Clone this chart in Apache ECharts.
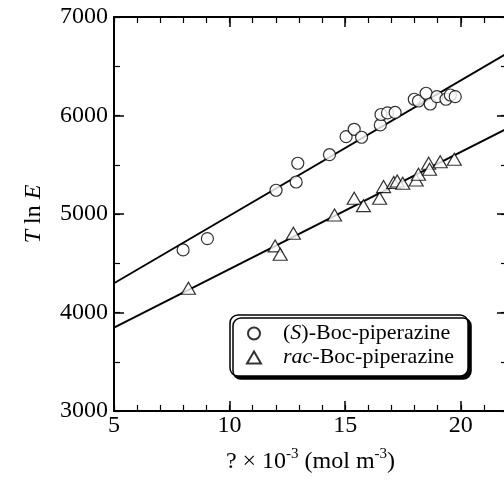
<!DOCTYPE html>
<html><head><meta charset="utf-8">
<script src="https://cdn.jsdelivr.net/npm/echarts@6/dist/echarts.min.js"></script>
<style>html,body{margin:0;padding:0;background:#fff}#c{width:504px;height:487px}</style>
</head><body><div id="c"></div>
<script>
// Data
const circX = [7.99, 9.04, 12.01, 12.88, 12.95, 14.32, 15.04, 15.39, 15.71, 16.52, 16.55, 16.83, 17.16, 17.99, 18.17, 18.50, 18.68, 18.97, 19.36, 19.55, 19.76];
const circY = [4635, 4750, 5241, 5325, 5515, 5602, 5785, 5860, 5779, 5904, 6010, 6026, 6031, 6165, 6147, 6226, 6117, 6191, 6165, 6208, 6191];
const triX = [8.22, 11.97, 12.19, 12.76, 14.54, 15.39, 15.79, 16.49, 16.66, 17.10, 17.25, 17.49, 18.07, 18.17, 18.61, 18.65, 19.11, 19.72];
const triY = [4246, 4676, 4592, 4805, 4990, 5160, 5085, 5160, 5278, 5320, 5335, 5312, 5345, 5403, 5515, 5454, 5531, 5556];
const fitX = [5, 22];
const fitCircY = [4297, 6631];
const fitTriY = [3846, 5867];
const xTicks = [5, 10, 15, 20];
const yTicks = [3000, 4000, 5000, 6000, 7000];
const seriesNames = ['(S)-Boc-piperazine', 'rac-Boc-piperazine'];

const FONT = "'Liberation Serif', 'Times New Roman', serif";
const zip = (a, b) => a.map((v, i) => [v, b[i]]);

const chart = echarts.init(document.getElementById('c'), null, {renderer: 'canvas'});
const lineAx = {show: true, onZero: false, lineStyle: {color: '#000', width: 2}};
function xAx(pos, major, labels) {
  return {
    type: 'value', position: pos, min: 5, max: 22, interval: major ? 5 : 1,
    axisLine: major ? lineAx : {show: false},
    axisTick: major ? {inside: true, length: 10, lineStyle: {color: '#000', width: 1.5}, customValues: xTicks}
                    : {inside: true, length: 6, lineStyle: {color: '#000', width: 1.2}},
    axisLabel: labels ? {show: true, customValues: xTicks, margin: 3, color: '#000', fontFamily: FONT, fontSize: 24,
                         formatter: v => String(v)} : {show: false},
    splitLine: {show: false}
  };
}
function yAx(pos, major, labels) {
  return {
    type: 'value', position: pos, min: 3000, max: 7000, interval: major ? 1000 : 500,
    axisLine: major ? lineAx : {show: false},
    axisTick: major ? {inside: true, length: 10, lineStyle: {color: '#000', width: 1.5}, customValues: yTicks}
                    : {inside: true, length: 6, lineStyle: {color: '#000', width: 1.2}},
    axisLabel: labels ? {show: true, customValues: yTicks, margin: 6, color: '#000', fontFamily: FONT, fontSize: 24,
                         formatter: v => String(v)} : {show: false},
    splitLine: {show: false}
  };
}
const xs = [xAx('bottom', true, true), xAx('bottom', false, false), xAx('top', true, false), xAx('top', false, false)];
xs[0].name = '? \u00d7 10{sup|-3} (mol m{sup|-3})';
xs[0].nameLocation = 'middle';
xs[0].nameGap = 36;
xs[0].nameTextStyle = {color: '#000', fontFamily: FONT, fontSize: 24, lineHeight: 30,
  rich: {sup: {fontFamily: FONT, fontSize: 15, color: '#000', verticalAlign: 'top', lineHeight: 30}}};
const ys = [yAx('left', true, true), yAx('left', false, false), yAx('right', true, false), yAx('right', false, false)];
ys[0].name = '{i|T} ln {i|E}';
ys[0].nameLocation = 'middle';
ys[0].nameRotate = 90;
ys[0].nameGap = 68;
ys[0].nameTextStyle = {color: '#000', fontFamily: FONT, fontSize: 24,
  rich: {i: {fontFamily: FONT, fontSize: 24, fontStyle: 'italic', color: '#000'}}};

chart.setOption({
  animation: false,
  backgroundColor: '#fff',
  grid: {left: 114, right: -3, top: 17, bottom: 76, containLabel: false, outerBoundsMode: 'none'},
  xAxis: xs,
  yAxis: ys,
  legend: {
    data: seriesNames,
    orient: 'vertical',
    left: 230, top: 315,
    padding: [7, 14, 7, 16],
    itemGap: 1,
    itemWidth: 14, itemHeight: 12,
    backgroundColor: '#fff',
    borderColor: '#000', borderWidth: 1.5, borderRadius: 8,
    shadowColor: '#000', shadowBlur: 0, shadowOffsetX: 3, shadowOffsetY: 3,
    formatter: function (n) {
      return n.indexOf('(S)') === 0 ? '{g|}({i|S})' + n.slice(3) : '{g|}{i|rac}' + n.slice(3);
    },
    textStyle: {color: '#000', fontFamily: FONT, fontSize: 22, lineHeight: 23,
      rich: {i: {fontFamily: FONT, fontSize: 22, fontStyle: 'italic', color: '#000', lineHeight: 23},
             g: {width: 17, lineHeight: 23}}}
  },
  series: [
    {name: seriesNames[0], type: 'scatter', data: zip(circX, circY), symbol: 'circle', symbolSize: 12,
     itemStyle: {color: '#fff', borderColor: '#000', borderWidth: 1.2}, z: 3},
    {name: seriesNames[1], type: 'scatter', data: zip(triX, triY), symbol: 'triangle', symbolSize: [14, 12],
     itemStyle: {color: '#fff', borderColor: '#000', borderWidth: 1.2}, z: 3},
    {name: 'fitS', type: 'line', data: zip(fitX, fitCircY), showSymbol: false, symbol: 'none',
     lineStyle: {color: '#000', width: 1.8}, z: 2},
    {name: 'fitR', type: 'line', data: zip(fitX, fitTriY), showSymbol: false, symbol: 'none',
     lineStyle: {color: '#000', width: 1.8}, z: 2}
  ]
});
</script></body></html>
